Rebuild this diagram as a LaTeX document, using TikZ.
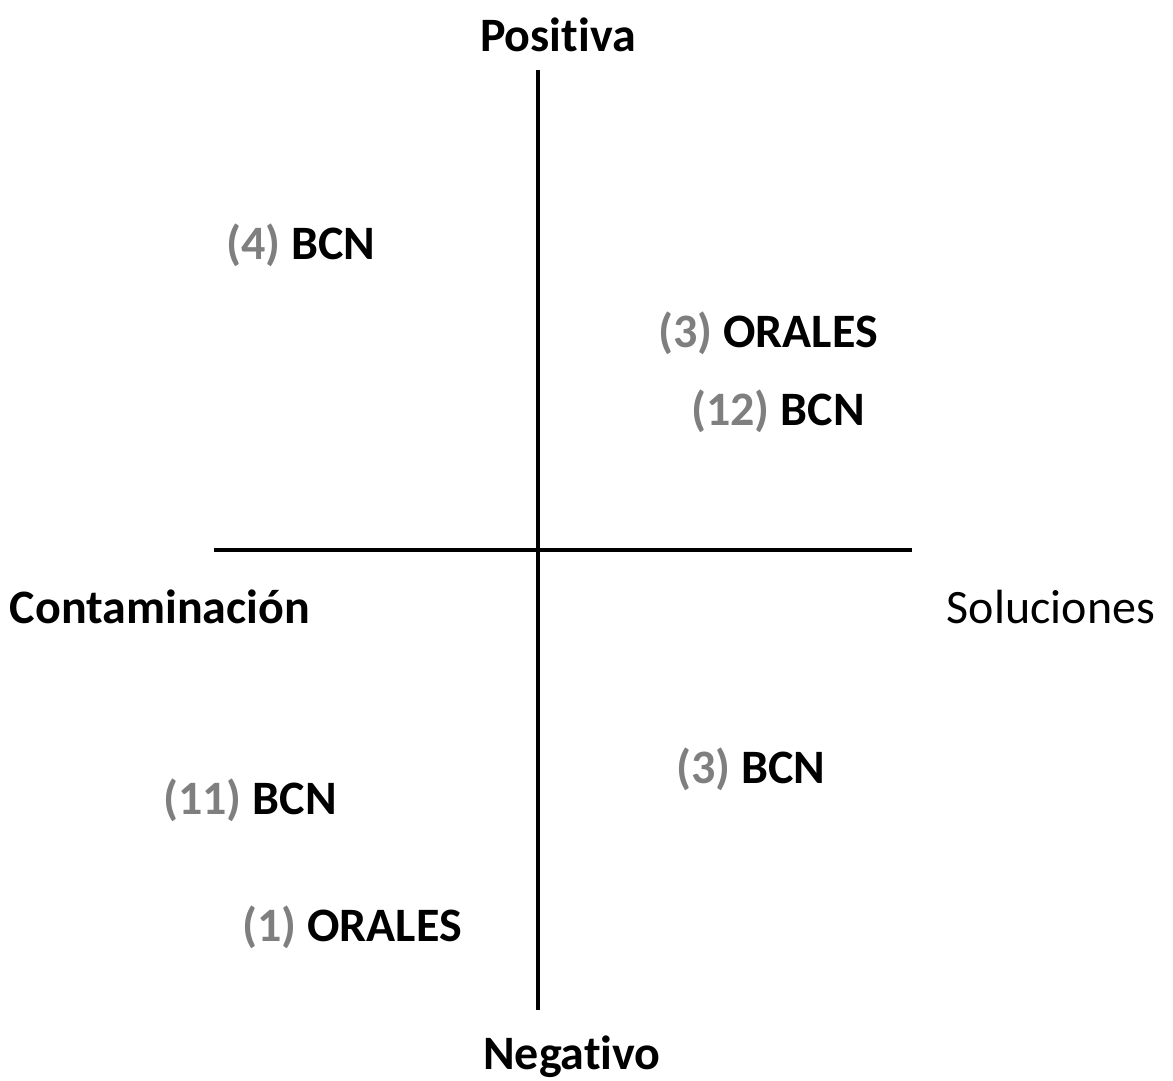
\documentclass[tikz,border=0pt]{standalone}
\usepackage{fontspec}
\setmainfont{Carlito}[Ligatures={NoCommon}]
\definecolor{numgray}{HTML}{7F7F7F}
\begin{document}
\begin{tikzpicture}[x=1pt,y=-1pt,
  axis/.style={line width=3.8pt},
  lbl/.style={font=\fontsize{48}{52}\selectfont\bfseries, inner sep=0pt, anchor=center},
  lblr/.style={font=\fontsize{48}{52}\selectfont, inner sep=0pt, anchor=center},
  item/.style={font=\fontsize{48}{52}\selectfont\bfseries, inner sep=0pt, anchor=center}]
\useasboundingbox (0,0) rectangle (1173,1081);
\coordinate (vtop) at (538,70);
\coordinate (vbot) at (538,1010);
\coordinate (hleft) at (214,550);
\coordinate (hright) at (912,550);
\draw[axis] (vtop) -- (vbot);
\draw[axis] (hleft) -- (hright);
\node[lbl] (pos) at (558,35) {Positiva};
\node[lbl] (neg) at (572,1057) {Negativo};
\node[lbl] (cont) at (160,607) {Contaminación};
\node[lblr] (sol) at (1051,607) {Soluciones};
\node[item] (a) at (301,245) {\textcolor{numgray}{(4)} BCN};
\node[item] (b) at (768,333) {\textcolor{numgray}{(3)} ORALES};
\node[item] (c) at (778,411) {\textcolor{numgray}{(12)} BCN};
\node[item] (d) at (751,769) {\textcolor{numgray}{(3)} BCN};
\node[item] (e) at (250,800) {\textcolor{numgray}{(11)} BCN};
\node[item] (f) at (352,927) {\textcolor{numgray}{(1)} ORALES};
\end{tikzpicture}
\end{document}
